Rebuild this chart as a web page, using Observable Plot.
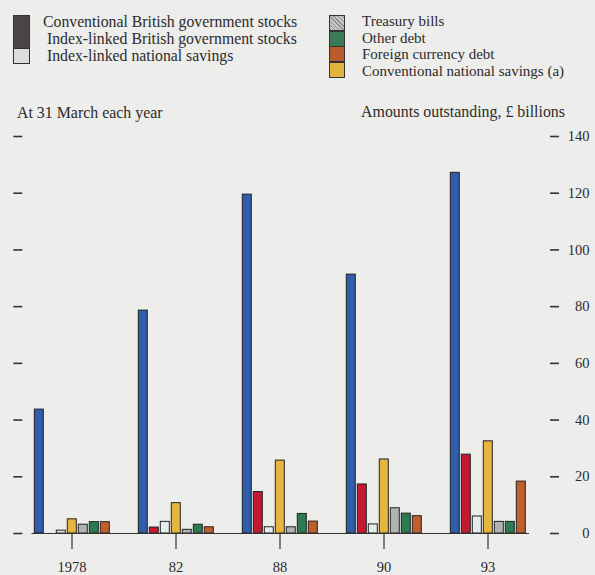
<!DOCTYPE html>
<html><head><meta charset="utf-8">
<script src="https://cdn.jsdelivr.net/npm/d3@7"></script>
<script src="https://cdn.jsdelivr.net/npm/@observablehq/plot@0.6"></script>
<style>
html,body{margin:0;padding:0;background:#ededeb;}
#wrap{position:relative;width:595px;height:575px;overflow:hidden;font-family:"Liberation Serif",serif;color:#2b2b2b;}
.t{position:absolute;white-space:nowrap;line-height:1;}
.sw{position:absolute;box-sizing:border-box;border:1px solid #333;}
#chart{position:absolute;left:0;top:0;}
</style></head><body>
<div id="wrap">
  <div id="chart"></div>
  <div id="legend"></div>
</div>
<script>
// ---- data ----
const years = ["1978", "82", "88", "90", "93"];
const series = [
  "Conventional British government stocks",
  "Index-linked British government stocks",
  "Index-linked national savings",
  "Conventional national savings (a)",
  "Treasury bills",
  "Other debt",
  "Foreign currency debt"
];
const conventionalGilts   = [43.7, 78.6, 119.5, 91.3, 127.2];
const indexLinkedGilts    = [null, 2.1, 14.6, 17.3, 27.8];
const indexLinkedSavings  = [1.0, 4.1, 2.2, 3.2, 6.0];
const conventionalSavings = [5.0, 10.7, 25.7, 26.1, 32.5];
const treasuryBills       = [3.1, 1.3, 2.2, 8.9, 4.1];
const otherDebt           = [4.0, 3.1, 6.9, 7.0, 4.1];
const foreignCurrencyDebt = [4.0, 2.2, 4.2, 6.1, 18.3];
const yTicks = [0, 20, 40, 60, 80, 100, 120, 140];
const noteLeft = "At 31 March each year";
const noteRight = "Amounts outstanding, £ billions";

// legend columns (as in the source)
const legendLeft = [series[0], series[1], series[2]];
const legendRight = [series[4], series[5], series[6], series[3]];

const seriesColors = ["#2f5da9", "#c21b31", "#e3eeec", "#e6b63e", "url(#tbHatch)", "#2f7a51", "#c0602b"];

const valuesBySeries = [conventionalGilts, indexLinkedGilts, indexLinkedSavings, conventionalSavings, treasuryBills, otherDebt, foreignCurrencyDebt];
const rows = [];
years.forEach((yr, i) => series.forEach((s, j) => rows.push({year: yr, series: s, value: valuesBySeries[j][i]})));

// ---- layout ----
const W = 595, H = 575;
const mL = 31.7, mR = 67;
const fxPad = 0.255;
const band = d3.scaleBand().domain(years).range([mL, W - mR]).paddingInner(fxPad);
const gap = band.step() - band.bandwidth();

const chart = Plot.plot({
  width: W, height: H,
  marginTop: 136, marginBottom: 42, marginLeft: mL, marginRight: mR,
  style: {fontFamily: "Liberation Serif, serif", fontSize: "14.5px", background: "transparent", color: "#2b2b2b"},
  fx: {domain: years, paddingInner: fxPad, paddingOuter: 0, label: null},
  x: {domain: series, paddingInner: 0.16, paddingOuter: 0.04, axis: null},
  y: {domain: [0, 140], label: null},
  color: {domain: series, range: seriesColors},
  marks: [
    Plot.barY(rows, {fx: "year", x: "series", y: "value", fill: "series", stroke: "#222", strokeWidth: 1}),
    Plot.ruleY(years.slice(0, -1), {fx: d => d, y: () => 0, stroke: "#333", strokeWidth: 1.2, insetLeft: -1.5, insetRight: -gap}),
    Plot.ruleY(years.slice(-1), {fx: d => d, y: () => 0, stroke: "#333", strokeWidth: 1.2, insetLeft: -1.5, insetRight: -3}),
    Plot.axisFx({anchor: "bottom", tickSize: 16, tickPadding: 12, label: null, stroke: "#333", strokeWidth: 1.2}),
    Plot.axisY(yTicks, {anchor: "left", tickSize: 9, tickFormat: () => "", dx: -10.7, label: null, stroke: "#333", strokeWidth: 1.6}),
    Plot.axisY(yTicks, {anchor: "right", tickSize: 9, tickPadding: 31, textAnchor: "end", dx: 23, label: null, stroke: "#333", strokeWidth: 1.6})
  ]
});

const svg = chart.tagName.toLowerCase() === "svg" ? chart : chart.querySelector("svg");
const NS = "http://www.w3.org/2000/svg";
const defs = document.createElementNS(NS, "defs");
const pat = document.createElementNS(NS, "pattern");
pat.setAttribute("id", "tbHatch"); pat.setAttribute("patternUnits", "userSpaceOnUse");
pat.setAttribute("width", "3"); pat.setAttribute("height", "3");
const pr = document.createElementNS(NS, "rect");
pr.setAttribute("width", "3"); pr.setAttribute("height", "3"); pr.setAttribute("fill", "#c6c6c6");
const pp = document.createElementNS(NS, "path");
pp.setAttribute("d", "M0,0L3,3M3,0L0,3"); pp.setAttribute("stroke", "#8f8f8f"); pp.setAttribute("stroke-width", "0.6");
pat.appendChild(pr); pat.appendChild(pp); defs.appendChild(pat);
svg.insertBefore(defs, svg.firstChild);
document.getElementById("chart").appendChild(chart);

// ---- legend and notes ----
const hatchCss = "repeating-linear-gradient(45deg,#8f8f8f 0 1px,#c6c6c6 1px 3px)";
const lg = document.getElementById("legend");
function addText(txt, x, baseline, size, alignRight) {
  const d = document.createElement("div");
  d.className = "t"; d.textContent = txt;
  if (alignRight) d.style.right = (W - x) + "px"; else d.style.left = x + "px";
  d.style.top = (baseline - 0.8375 * size) + "px"; d.style.fontSize = size + "px";
  lg.appendChild(d);
}
function addSwatch(x, y, w, h, bg) {
  const d = document.createElement("div");
  d.className = "sw";
  d.style.left = x + "px"; d.style.top = y + "px"; d.style.width = w + "px"; d.style.height = h + "px";
  d.style.background = bg;
  lg.appendChild(d);
}
addSwatch(13, 15, 17, 34, "#4a4547");
addSwatch(13, 48, 17, 16, "#dcdcda");
addText(legendLeft[0], 43, 26.7, 15.75);
addText(legendLeft[1], 47, 44, 15.75);
addText(legendLeft[2], 47, 61, 15.75);
const rightSw = [hatchCss, "#3a7a55", "#b95b2e", "#e2b240"];
const rightTop = [15, 31, 46, 62];
const rightBase = [26.7, 43.3, 60, 76.3];
legendRight.forEach((s, i) => {
  addSwatch(329, rightTop[i], 16, 16, rightSw[i]);
  addText(s, 362, rightBase[i], 15);
});
addText(noteLeft, 17, 118.3, 15.9);
addText(noteRight, 565, 117.5, 15.9, true);
</script>
</body></html>
